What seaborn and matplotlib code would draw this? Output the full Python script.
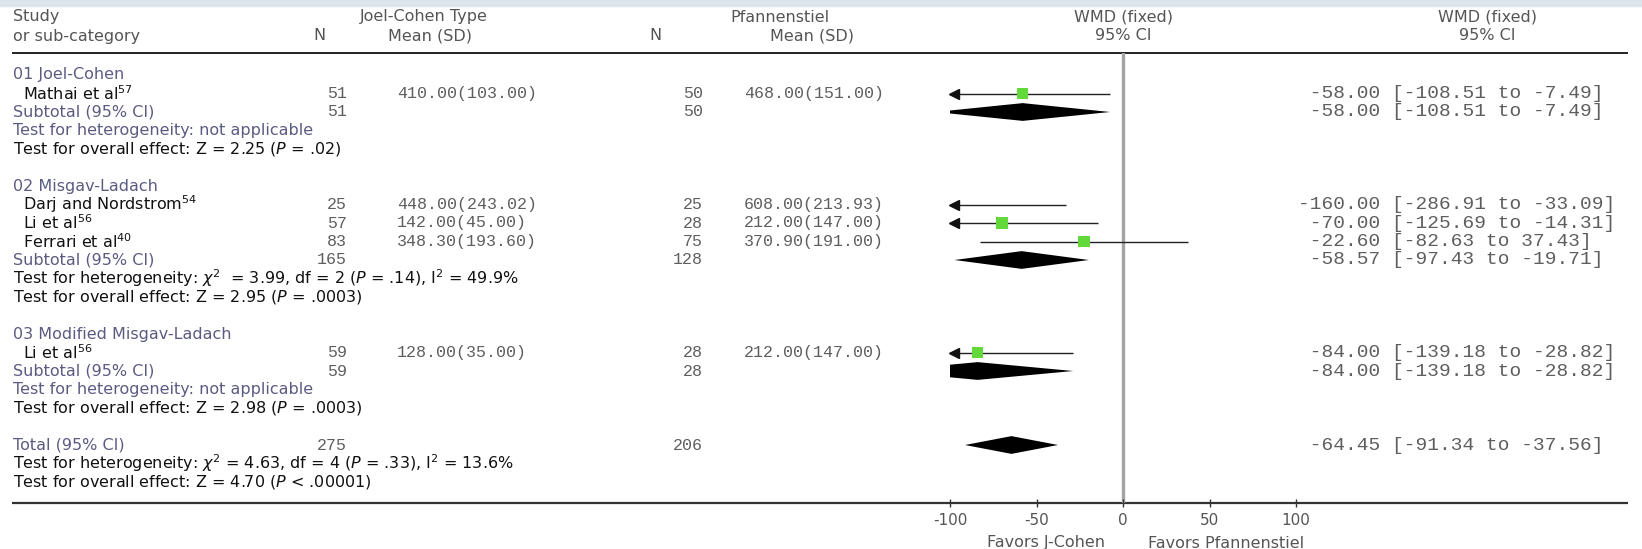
import numpy as np
import pandas as pd
import seaborn as sns
import matplotlib
matplotlib.use('Agg')
import matplotlib.pyplot as plt
from matplotlib.patches import Rectangle

# ---- data ----
groups = ['01 Joel-Cohen', '02 Misgav-Ladach', '03 Modified Misgav-Ladach']
studies = ['Mathai et al$^{57}$', 'Darj and Nordstrom$^{54}$', 'Li et al$^{56}$',
           'Ferrari et al$^{40}$', 'Li et al$^{56}$']
study_group = [0, 1, 1, 1, 2]
n_jc = [51, 25, 57, 83, 59]
mean_jc = [410.00, 448.00, 142.00, 348.30, 128.00]
sd_jc = [103.00, 243.02, 45.00, 193.60, 35.00]
n_pf = [50, 25, 28, 75, 28]
mean_pf = [468.00, 608.00, 212.00, 370.90, 212.00]
sd_pf = [151.00, 213.93, 147.00, 191.00, 147.00]
wmd = [-58.00, -160.00, -70.00, -22.60, -84.00]
wmd_lo = [-108.51, -286.91, -125.69, -82.63, -139.18]
wmd_hi = [-7.49, -33.09, -14.31, 37.43, -28.82]

sub_n_jc = [51, 165, 59]
sub_n_pf = [50, 128, 28]
sub_wmd = [-58.00, -58.57, -84.00]
sub_lo = [-108.51, -97.43, -139.18]
sub_hi = [-7.49, -19.71, -28.82]
sub_het = ['not applicable',
           '$\\chi^2$  = 3.99, df = 2 ($P$ = .14), I$^2$ = 49.9%',
           'not applicable']
sub_overall = ['Z = 2.25 ($P$ = .02)', 'Z = 2.95 ($P$ = .0003)', 'Z = 2.98 ($P$ = .0003)']

total_n_jc = 275
total_n_pf = 206
total_wmd = -64.45
total_lo = -91.34
total_hi = -37.56
total_het = '$\\chi^2$ = 4.63, df = 4 ($P$ = .33), I$^2$ = 13.6%'
total_overall = 'Z = 4.70 ($P$ < .00001)'

xticks = [-100, -50, 0, 50, 100]

# ---- layout (pixels of a 1642x549 canvas) ----
W, H = 1642, 549
ROW0, ROW_H = 75, 18.5
def row(px):
    return (px - ROW0) / ROW_H

SANS = 11.5
MONO = 'Liberation Mono'
grey_blue = '#5b5b82'
txt_grey = '#555555'
mono_grey = '#5e5e5e'
green = '#63d83a'

fig = plt.figure(figsize=(W / 100, H / 100), dpi=100)
ax = fig.add_axes([0, 0, 1, 1])
ax.set_xlim(0, W)
ax.set_ylim(row(H), row(0))
ax.axis('off')

fig.patches.append(Rectangle((0, 1 - 6 / H), 1, 6 / H, transform=fig.transFigure,
                             color='#dde5ec', zorder=0))

# header
hy1, hy2 = row(17), row(36)
ax.text(13, hy1, 'Study', fontsize=SANS, color=txt_grey, va='center')
ax.text(13, hy2, 'or sub-category', fontsize=SANS, color=txt_grey, va='center')
ax.text(319, hy2, 'N', fontsize=SANS, color=txt_grey, va='center', ha='center')
ax.text(424, hy1, 'Joel-Cohen Type', fontsize=SANS, color=txt_grey, va='center', ha='center')
ax.text(430, hy2, 'Mean (SD)', fontsize=SANS, color=txt_grey, va='center', ha='center')
ax.text(655, hy2, 'N', fontsize=SANS, color=txt_grey, va='center', ha='center')
ax.text(780, hy1, 'Pfannenstiel', fontsize=SANS, color=txt_grey, va='center', ha='center')
ax.text(812, hy2, 'Mean (SD)', fontsize=SANS, color=txt_grey, va='center', ha='center')
for cx in [1123, 1487]:
    ax.text(cx, hy1, 'WMD (fixed)', fontsize=SANS, color=txt_grey, va='center', ha='center')
    ax.text(cx, hy2, '95% CI', fontsize=SANS, color=txt_grey, va='center', ha='center')
ax.hlines(row(53), 12, 1628, color='#111111', lw=1.3)
ax.hlines(row(503), 12, 1628, color='#333333', lw=1.6)

def ci_text(est, lo, hi):
    return f'{est:7.2f} [{lo:.2f} to {hi:.2f}]'

def mono(x, y, s, ha='left', size=12):
    ax.text(x, y, s, family=MONO, fontsize=size, color=mono_grey, va='center', ha=ha)

# table rows
study_rows, diamonds = [], []
r = 0
for g, name in enumerate(groups):
    ax.text(13, r, name, fontsize=SANS, color=grey_blue, va='center')
    r += 1
    for i in [k for k in range(len(studies)) if study_group[k] == g]:
        ax.text(23, r, studies[i], fontsize=SANS, color='#111111', va='center')
        mono(347, r, str(n_jc[i]), ha='right')
        mono(397, r, f'{mean_jc[i]:.2f}({sd_jc[i]:.2f})')
        mono(703, r, str(n_pf[i]), ha='right')
        mono(744, r, f'{mean_pf[i]:.2f}({sd_pf[i]:.2f})')
        mono(1298, r, ci_text(wmd[i], wmd_lo[i], wmd_hi[i]), size=14)
        study_rows.append(dict(row=r, est=wmd[i], lo=wmd_lo[i], hi=wmd_hi[i]))
        r += 1
    ax.text(13, r, 'Subtotal (95% CI)', fontsize=SANS, color=grey_blue, va='center')
    mono(347, r, str(sub_n_jc[g]), ha='right')
    mono(703, r, str(sub_n_pf[g]), ha='right')
    mono(1298, r, ci_text(sub_wmd[g], sub_lo[g], sub_hi[g]), size=14)
    diamonds.append((r, sub_wmd[g], sub_lo[g], sub_hi[g]))
    r += 1
    het_col = grey_blue if sub_het[g] == 'not applicable' else '#111111'
    ax.text(13, r, 'Test for heterogeneity: ' + sub_het[g], fontsize=SANS, color=het_col, va='center')
    r += 1
    ax.text(13, r, 'Test for overall effect: ' + sub_overall[g], fontsize=SANS, color='#111111', va='center')
    r += 2

ax.text(13, r, 'Total (95% CI)', fontsize=SANS, color=grey_blue, va='center')
mono(347, r, str(total_n_jc), ha='right')
mono(703, r, str(total_n_pf), ha='right')
mono(1298, r, ci_text(total_wmd, total_lo, total_hi), size=14)
diamonds.append((r, total_wmd, total_lo, total_hi))
ax.text(13, r + 1, 'Test for heterogeneity: ' + total_het, fontsize=SANS, color='#111111', va='center')
ax.text(13, r + 2, 'Test for overall effect: ' + total_overall, fontsize=SANS, color='#111111', va='center')

ax.text(1046, row(543), 'Favors J-Cohen', fontsize=SANS, color=txt_grey, va='center', ha='center')
ax.text(1226, row(543), 'Favors Pfannenstiel', fontsize=SANS, color=txt_grey, va='center', ha='center')

# ---- forest panel ----
fx = fig.add_axes([950 / W, 1 - 503 / H, 346 / W, 450 / H])
fx.patch.set_alpha(0)
fx.set_xlim(-100, 100)
fx.set_ylim(row(503), row(53))
for s in fx.spines.values():
    s.set_visible(False)
fx.set_yticks([])
fx.set_xticks(xticks)
fx.set_xticklabels([str(t) for t in xticks])
fx.tick_params(axis='x', direction='inout', length=6, width=1, color='#333333',
               labelsize=11, labelcolor=txt_grey, pad=4)
fx.axvline(0, color='#a3a3a3', lw=2.4, zorder=0)

df = pd.DataFrame(study_rows)
xmin = fx.get_xlim()[0]
for _, d in df.iterrows():
    left = max(d['lo'], xmin)
    fx.hlines(d['row'], left, d['hi'], color='#222222', lw=1.0, zorder=2)
    if d['lo'] < xmin:
        fx.plot([xmin + 2.5], [d['row']], marker='<', color='#111111', ms=7, zorder=3, clip_on=False)
sns.scatterplot(data=df, x='est', y='row', marker='s', s=70, color=green,
                edgecolor='none', ax=fx, zorder=4, legend=False)
fx.set_xlabel('')
fx.set_ylabel('')

for rr, est, lo, hi in diamonds:
    fx.fill([lo, est, hi, est], [rr, rr - 0.48, rr, rr + 0.48], color='black', lw=0, zorder=3)

plt.savefig('out.png', dpi=100)
